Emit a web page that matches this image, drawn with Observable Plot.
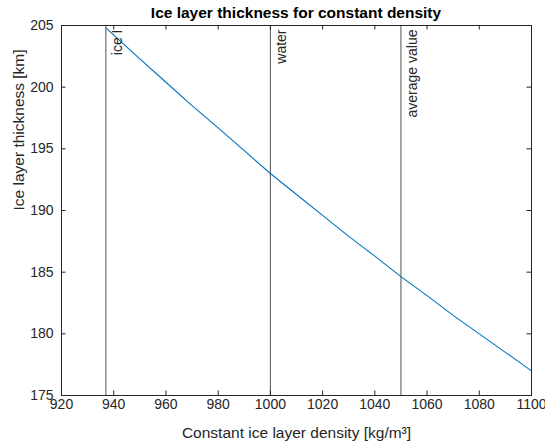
<!DOCTYPE html>
<html>
<head>
<meta charset="utf-8">
<script src="https://cdn.jsdelivr.net/npm/d3@7"></script>
<script src="https://cdn.jsdelivr.net/npm/@observablehq/plot@0.6"></script>
<style>
  body { margin: 0; background: #fff; }
  #wrap { width: 545px; height: 447px; position: relative; overflow: hidden; font-family: "Liberation Sans", Arial, sans-serif; }
  #title { height: 22px; width: 545px; position: relative; }
  #title span { position: absolute; left: 0; width: 592px; text-align: center; top: 4px; font-weight: bold; font-size: 15.5px; color: #000; line-height: 18px; white-space: nowrap; }
</style>
</head>
<body>
<div id="wrap">
  <div id="title"><span>Ice layer thickness for constant density</span></div>
  <div id="chart"></div>
</div>
<script>
// Data
const density   = [937, 950, 960, 970, 980, 990, 1000, 1010, 1020, 1030, 1040, 1050, 1060, 1070, 1080, 1090, 1100];
const thickness = [204.8, 202.3, 200.4, 198.5, 196.7, 194.85, 193.0, 191.3, 189.6, 187.9, 186.3, 184.64, 183.1, 181.5, 180.0, 178.5, 177.0];

const refDensity = [937, 1000, 1050];
const refLabels  = ["ice I", "water", "average value"];

const xTicks = [920, 940, 960, 980, 1000, 1020, 1040, 1060, 1080, 1100];
const yTicks = [175, 180, 185, 190, 195, 200, 205];

const xLabel = "Constant ice layer density [kg/m³]";
const yLabel = "Ice layer thickness [km]";

const curve = density.map((d, i) => ({density: d, thickness: thickness[i]}));
const refs = refDensity.map((d, i) => ({density: d, label: refLabels[i]}));

const W = 545, H = 425;
const mL = 61, mR = 14, mT = 3, mB = 52;
const plotH = H - mT - mB;
const plotW = W - mL - mR;
const tick = 4.5;
const ink = "#262626";
const fmt = d3.format("d");

const chart = Plot.plot({
  width: W,
  height: H,
  marginLeft: mL,
  marginRight: mR,
  marginTop: mT,
  marginBottom: mB,
  style: {fontFamily: "Liberation Sans, Arial, sans-serif", fontSize: "14px", color: ink, background: "white", overflow: "visible"},
  x: {domain: [920, 1100]},
  y: {domain: [175, 205]},
  marks: [
    Plot.ruleX(refs, {x: "density", stroke: ink, strokeWidth: 0.8}),
    Plot.line(curve, {x: "density", y: "thickness", stroke: "#0072BD", strokeWidth: 1.1}),
    Plot.text(refs, {x: "density", frameAnchor: "top", text: "label", rotate: -90, textAnchor: "end", lineAnchor: "top", dx: 6, dy: 4, fill: ink, fontSize: 14}),
    Plot.tickX(xTicks, {x: d => d, insetTop: plotH - tick, stroke: ink}),
    Plot.tickX(xTicks, {x: d => d, insetBottom: plotH - tick, stroke: ink}),
    Plot.tickY(yTicks, {y: d => d, insetRight: plotW - tick, stroke: ink}),
    Plot.tickY(yTicks, {y: d => d, insetLeft: plotW - tick, stroke: ink}),
    Plot.axisX(xTicks, {tickSize: 0, tickPadding: 4, label: null, fill: ink, fontSize: 14, tickFormat: fmt}),
    Plot.axisY(yTicks, {tickSize: 0, tickPadding: 8, label: null, fill: ink, fontSize: 14, tickFormat: fmt}),
    Plot.frame({stroke: ink}),
    Plot.text([xLabel], {text: d => d, frameAnchor: "bottom", dy: 42, fontSize: 15.5, fill: ink}),
    Plot.text([yLabel], {text: d => d, frameAnchor: "left", rotate: -90, dx: -42, fontSize: 15.5, fill: ink})
  ]
});
document.getElementById("chart").appendChild(chart);
</script>
</body>
</html>
